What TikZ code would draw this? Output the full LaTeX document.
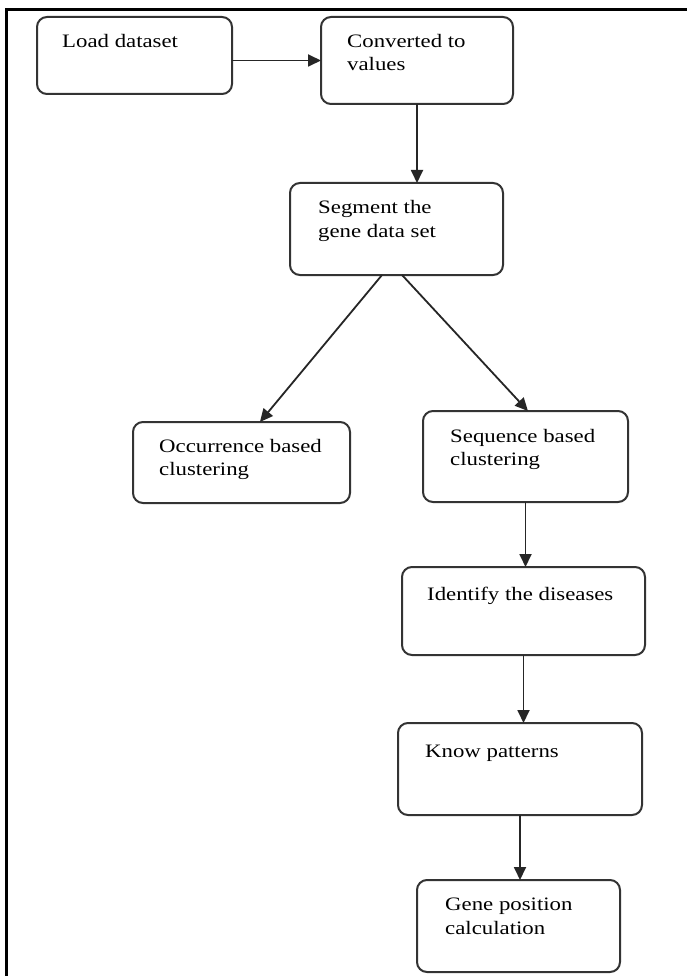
\documentclass[tikz,border=0pt]{standalone}
\usepackage{fontspec}
\setmainfont{Liberation Serif}[FakeStretch=1.2]
\usetikzlibrary{arrows.meta,calc}
\begin{document}
\begin{tikzpicture}[x=1pt,y=-1pt,
  box/.style={draw=black!80, line width=2pt, rounded corners=10pt, inner sep=0pt, outer sep=0pt, fill=white},
  lbl/.style={anchor=base west, inner sep=0pt, align=left, font=\fontsize{19}{23.5}\selectfont},
  arr/.style={draw=black!85, line width=1.8pt, -{Triangle[length=13pt,width=12pt]}}]
\useasboundingbox (0,0) rectangle (686,976);
\fill[white] (0,0) rectangle (686,976);
\draw[line width=3pt, line cap=rect] (686,9.5) -- (6.5,9.5) -- (6.5,976);

\node[box, minimum width=195pt, minimum height=77pt] (load) at (134.5,55.5) {};
\node[box, minimum width=192pt, minimum height=87pt] (conv) at (417,60.5) {};
\node[box, minimum width=213pt, minimum height=92pt] (seg) at (396.5,229) {};
\node[box, minimum width=217pt, minimum height=81pt] (occ) at (241.5,462.5) {};
\node[box, minimum width=205pt, minimum height=91pt] (seq) at (525.5,456.5) {};
\node[box, minimum width=243pt, minimum height=88pt] (ident) at (523.5,611) {};
\node[box, minimum width=244pt, minimum height=92pt] (know) at (520,769) {};
\node[box, minimum width=203pt, minimum height=92pt] (gene) at (518.5,926) {};

\node[lbl] (loadt) at (62,48) {Load dataset};
\node[lbl] (convt) at (347,71) {Converted to\\values};
\node[lbl] (segt) at (318,237) {Segment the\\gene data set};
\node[lbl] (occt) at (159,475.5) {Occurrence based\\clustering};
\node[lbl] (seqt) at (450,465.5) {Sequence based\\clustering};
\node[lbl] (identt) at (427,600) {Identify the diseases};
\node[lbl] (knowt) at (425,757) {Know patterns};
\node[lbl] (genet) at (445,934) {Gene position\\calculation};

\draw[arr] (load.east |- conv.west) -- (conv.west);
\draw[arr] (conv.south) -- (conv.south |- seg.north);
\draw[arr] ($(seg.south west)!0.432!(seg.south east)$) -- ($(occ.north west)!0.585!(occ.north east)$);
\draw[arr] ($(seg.south west)!0.526!(seg.south east)$) -- ($(seq.north west)!0.512!(seq.north east)$);
\draw[arr] (seq.south) -- (seq.south |- ident.north);
\draw[arr] (ident.south) -- (ident.south |- know.north);
\draw[arr] (know.south) -- (know.south |- gene.north);
\end{tikzpicture}
\end{document}
